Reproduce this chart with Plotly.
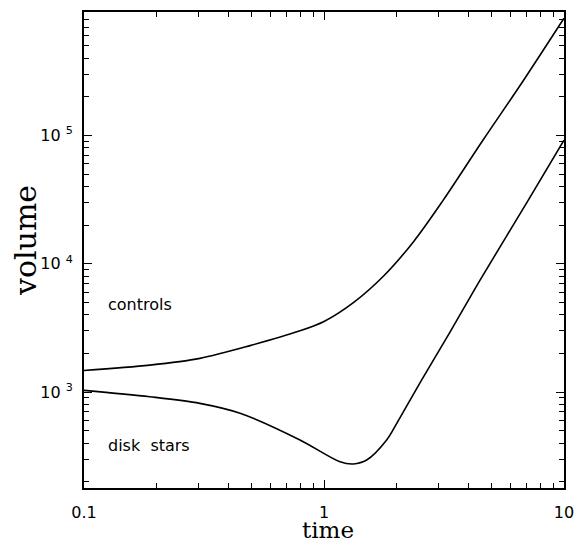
import plotly.graph_objects as go

# Data (log-log)
controls_t = [0.1, 0.188, 0.304, 0.492, 0.794, 1.0, 1.33, 1.78, 2.37, 3.14, 4.6, 6.56, 10.0]
controls_v = [1470, 1620, 1830, 2300, 3000, 3550, 5000, 8100, 15000, 31300, 92000, 245000, 820000]

disk_t = [0.1, 0.188, 0.304, 0.447, 0.794, 1.166, 1.325, 1.506, 1.824, 2.01, 2.55, 3.35, 4.47, 7.1, 10.0]
disk_v = [1030, 919, 816, 683, 423, 286, 275, 295, 423, 570, 1240, 2930, 7460, 31300, 92000]

x_tickvals = [0.1, 1, 10]
x_ticktext = ["0.1", "1", "10"]
y_tickvals = [1e3, 1e4, 1e5]
y_ticktext = ["10 <sup>3</sup>", "10 <sup>4</sup>", "10 <sup>5</sup>"]

x_minor = [m * 10 ** e for e in (-1, 0) for m in range(2, 10)]
y_minor = [m * 10 ** e for e in (2, 3, 4, 5) for m in range(2, 10)]

fig = go.Figure()
line = dict(color="black", width=1.6, shape="spline", smoothing=0.9)
fig.add_trace(go.Scatter(x=controls_t, y=controls_v, mode="lines", line=line, showlegend=False))
fig.add_trace(go.Scatter(x=disk_t, y=disk_v, mode="lines", line=line, showlegend=False))

tickfont = dict(family="DejaVu Sans", size=16, color="black")
axis_common = dict(
    type="log", showgrid=False, zeroline=False, showline=True, linecolor="black",
    linewidth=1.8, mirror="allticks", ticks="inside", ticklen=8, tickwidth=1.4,
    tickcolor="black", tickfont=tickfont, automargin=False,
)
fig.update_xaxes(**axis_common, range=[-1, 1], tickvals=x_tickvals, ticktext=x_ticktext,
                 ticklabelstandoff=9,
                 minor=dict(tickvals=x_minor, ticks="inside", ticklen=5, tickwidth=1.2, tickcolor="black"))
fig.update_yaxes(**axis_common, range=[2.252, 5.962], tickvals=y_tickvals, ticktext=y_ticktext,
                 ticklabelstandoff=6,
                 minor=dict(tickvals=y_minor, ticks="inside", ticklen=5, tickwidth=1.2, tickcolor="black"))

# page body has an 8px margin; figure is sized/placed to compensate
annotations = [
    dict(text="time", xref="paper", yref="paper", x=(328 - 84) / 480, y=(488 - 530) / 476,
         xanchor="center", yanchor="middle", showarrow=False,
         font=dict(family="DejaVu Serif", size=23, color="black")),
    dict(text="volume", xref="paper", yref="paper", x=(26 - 84) / 480, y=(488 - 241) / 476,
         xanchor="center", yanchor="middle", showarrow=False, textangle=-90,
         font=dict(family="DejaVu Serif", size=30, color="black")),
    dict(text="controls", xref="paper", yref="paper", x=(106 - 84) / 480, y=(488 - 304) / 476,
         xanchor="left", yanchor="middle", showarrow=False,
         font=dict(family="DejaVu Sans", size=16, color="black")),
    dict(text="disk\u00a0\u00a0stars", xref="paper", yref="paper", x=(106 - 84) / 480, y=(488 - 445) / 476,
         xanchor="left", yanchor="middle", showarrow=False,
         font=dict(family="DejaVu Sans", size=16, color="black")),
]

fig.update_layout(
    width=574, height=532,
    margin=dict(l=76, r=18, t=4, b=52),
    paper_bgcolor="white", plot_bgcolor="white",
    annotations=annotations,
)
fig.write_html("out.html")
